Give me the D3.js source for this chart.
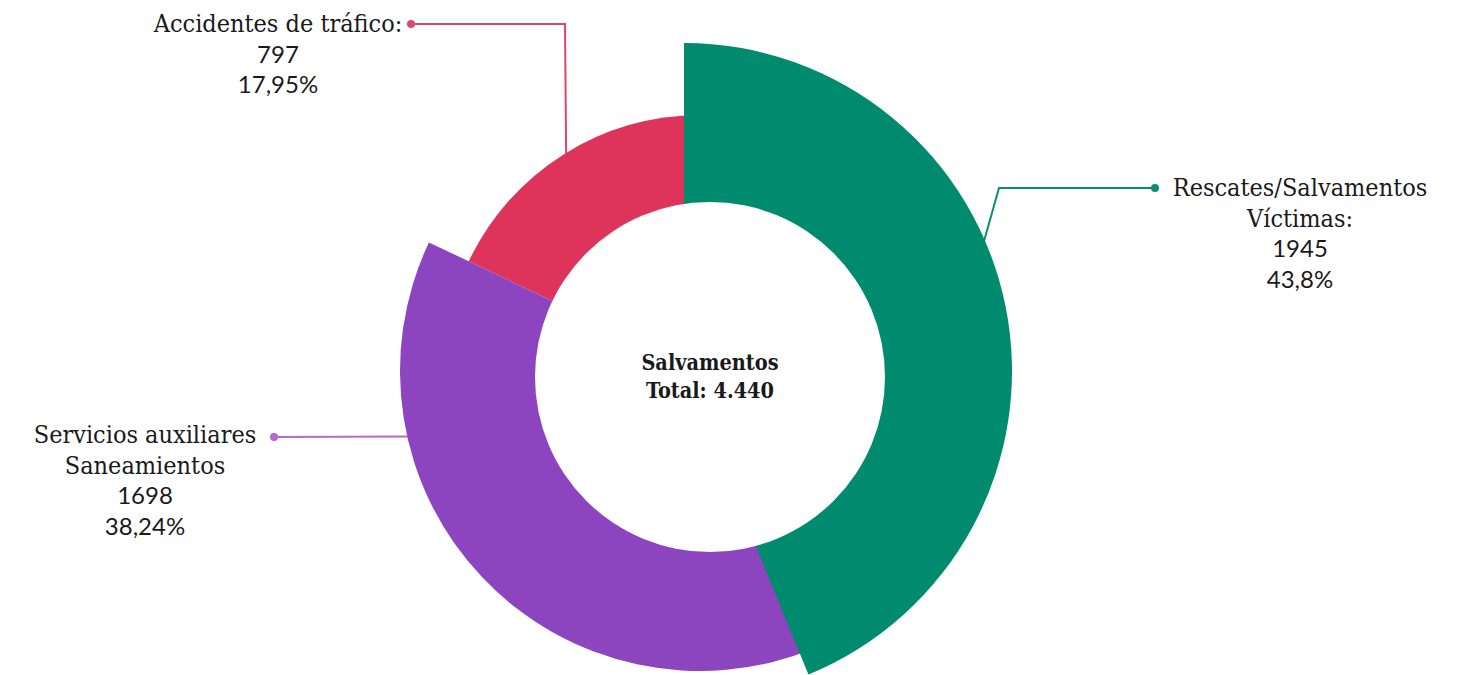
<!DOCTYPE html>
<html>
<head>
<meta charset="utf-8">
<script src="https://cdn.jsdelivr.net/npm/d3@7"></script>
<style>
	body { margin: 0; background: #ffffff; }
	svg { display: block; }
	.slab { font-family: "DejaVu Serif Condensed", "DejaVu Serif", serif; font-stretch: condensed; fill: #1a1a1a; }
	.num { font-family: Lato, sans-serif; fill: #1a1a1a; }
</style>
</head>
<body>
<div id="chart"></div>
<script>
"use strict";

// chart data
var categories = ["Rescates/Salvamentos Víctimas", "Servicios auxiliares Saneamientos", "Accidentes de tráfico"];
var labelLines = [["Rescates/Salvamentos", "Víctimas:"], ["Servicios auxiliares", "Saneamientos"], ["Accidentes de tráfico:"]];
var values = [1945, 1698, 797];
var percentLabels = ["43,8%", "38,24%", "17,95%"];
var colors = ["#008b6e", "#8d44bf", "#de345b"];
var leaderColors = ["#0b8d72", "#b468d4", "#e0456b"];
var centerTitle = "Salvamentos";

var width = 1465;
var height = 675;

// geometry of each slice (the original has shifted slices and an off-centre hole)
var sliceLayout = [
	{dx: -16, dy: 0, r: 328},
	{dx: 0, dy: 0, r: 300},
	{dx: 0, dy: 0, r: 256}
];
var center = {x: 700, y: 371};
var hole = {x: 710, y: 377, r: 175};

// label placement: dot, optional elbow, angle where line meets the slice
var labelLayout = [
	{dot: [1155, 188], elbow: [999, 188], hitAngle: 66.8, tx: 1300, ty: 196},
	{dot: [274, 437], elbow: null, hitAngle: 257.3, tx: 145, ty: 443},
	{dot: [411, 24], elbow: [565, 24], hitAngle: -31.8, tx: 278, ty: 32}
];

var esLocale = d3.formatLocale({decimal: ",", thousands: ".", grouping: [3], currency: ["", "€"]});
var fmtTotal = esLocale.format(",d");

var svg = d3.select("#chart").append("svg")
	.attr("width", width)
	.attr("height", height);

var pie = d3.pie()
	.sort(null)
	.value(function(d) {
		return d;
	});
var arcs = pie(values);

var arc = d3.arc()
	.innerRadius(0)
	.outerRadius(function(d, i) {
		return sliceLayout[d.index].r;
	});

// leader lines go under the slices
var leaders = svg.append("g").attr("class", "leaders");
arcs.forEach(function(d, i) {
	var lay = labelLayout[i];
	var sl = sliceLayout[i];
	var p = d3.pointRadial(lay.hitAngle * Math.PI / 180, sl.r - 2);
	var pts = [lay.dot];
	if (lay.elbow) {
		pts.push(lay.elbow);
	}
	pts.push([center.x + sl.dx + p[0], center.y + sl.dy + p[1]]);
	leaders.append("path")
		.attr("d", d3.line()(pts))
		.attr("fill", "none")
		.attr("stroke", leaderColors[i])
		.attr("stroke-width", 2);
	leaders.append("circle")
		.attr("cx", lay.dot[0])
		.attr("cy", lay.dot[1])
		.attr("r", 4)
		.attr("fill", leaderColors[i]);
});

// slices, drawn last-to-first so the big one sits on top
var order = [2, 1, 0];
svg.append("g")
	.attr("class", "slices")
	.selectAll("path")
	.data(order.map(function(k) {
		return arcs[k];
	}))
	.enter().append("path")
	.attr("transform", function(d) {
		var sl = sliceLayout[d.index];
		return "translate(" + (center.x + sl.dx) + "," + (center.y + sl.dy) + ")";
	})
	.attr("d", arc)
	.attr("fill", function(d) {
		return colors[d.index];
	});

// hole
svg.append("circle")
	.attr("cx", hole.x)
	.attr("cy", hole.y)
	.attr("r", hole.r)
	.attr("fill", "#ffffff");

// centre text
var ct = svg.append("text")
	.attr("class", "slab")
	.attr("text-anchor", "middle")
	.style("font-size", "21.5px")
	.style("font-weight", "bold");
ct.append("tspan")
	.attr("x", hole.x)
	.attr("y", 370)
	.text(centerTitle);
ct.append("tspan")
	.attr("x", hole.x)
	.attr("y", 398)
	.text("Total: " + fmtTotal(d3.sum(values)));

// labels
var lineH = 30.7;
arcs.forEach(function(d, i) {
	var lay = labelLayout[i];
	var t = svg.append("text")
		.attr("text-anchor", "middle")
		.attr("data-category", categories[i]);
	var n = 0;
	labelLines[i].forEach(function(s) {
		t.append("tspan")
			.attr("class", "slab")
			.attr("x", lay.tx)
			.attr("y", lay.ty + n * lineH)
			.style("font-size", "25px")
			.text(s);
		n++;
	});
	[String(values[i]), percentLabels[i]].forEach(function(s) {
		t.append("tspan")
			.attr("class", "num")
			.attr("x", lay.tx)
			.attr("y", lay.ty + n * lineH)
			.style("font-size", "24px")
			.text(s);
		n++;
	});
});
</script>
</body>
</html>
